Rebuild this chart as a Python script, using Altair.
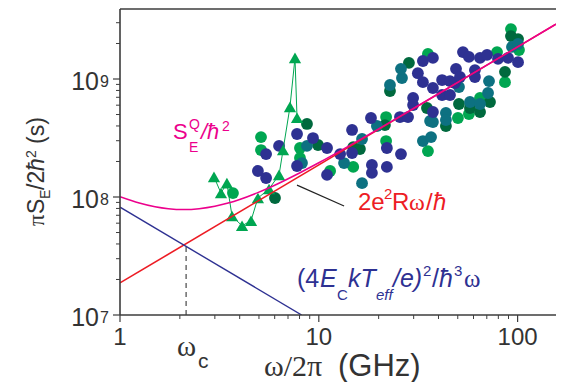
import altair as alt
import pandas as pd

# ---------------- data ----------------
green_f = [5.12, 5.12, 3.70, 8.04, 8.04, 14.9, 11.4, 21.8, 21.8, 35.4, 35.4, 50.1, 56.9, 64.7, 86.4, 92.6, 101.6, 78.8]
green_s = [3.22e8, 2.50e8, 1.08e8, 2.60e8, 2.14e8, 1.80e8, 1.66e8, 2.98e8, 4.76e8, 1.63e9, 2.45e8, 4.67e8, 5.05e8, 6.90e8, 9.4e8, 2.65e9, 1.76e9, 1.69e9]
dkgreen_f = [6.02, 8.72, 9.91, 14.9, 16.1, 21.5, 22.8, 28.4, 35.0, 43.6, 50.7, 57.6, 64.7, 72.6, 86.4, 92.6, 100.5]
dkgreen_s = [9.8e7, 4.16e8, 2.76e8, 2.65e8, 2.55e8, 4.07e8, 7.91e8, 1.37e9, 5.68e8, 4.0e8, 6.14e8, 5.68e8, 5.25e8, 6.38e8, 1.15e9, 2.31e9, 2.18e9]
teal_f = [8.72, 8.23, 16.5, 13.4, 16.5, 19.6, 22.8, 26.2, 25.9, 36.3, 33.4, 36.7, 43.6, 43.6, 37.5, 50.7, 57.6, 64.7, 71.0, 71.8, 93.7, 100.5]
teal_s = [2.71e8, 1.94e8, 3.10e8, 1.94e8, 1.31e8, 4.0e8, 8.9e8, 1.02e9, 1.22e9, 4.41e8, 2.98e8, 3.22e8, 5.15e8, 4.49e8, 4.32e8, 8.55e8, 6.38e8, 6.14e8, 7.61e8, 9.6e8, 1.87e9, 1.98e9]
navy_f = [5.43, 6.31, 4.94, 5.43, 7.77, 9.35, 7.77, 11.0, 12.8, 14.7, 14.7, 11.0, 18.5, 18.5, 22.0, 22.0, 25.9, 18.3,
          25.6, 28.1, 29.8, 29.8, 31.5, 33.4, 33.4, 37.5, 37.5, 37.5, 41.7, 45.7, 48.4, 41.7, 45.7, 49.0, 51.3, 53.1,
          56.9, 61.0, 61.0, 64.7, 70.2, 79.7, 89.5, 100.5]
navy_s = [2.31e8, 2.71e8, 1.66e8, 1.45e8, 3.42e8, 3.16e8, 1.83e8, 2.60e8, 2.31e8, 3.70e8, 2.36e8, 1.54e8, 1.87e8, 1.60e8,
          1.80e8, 2.60e8, 2.31e8, 4.67e8, 4.76e8, 4.76e8, 6.90e8, 6.02e8, 1.12e9, 9.4e8, 1.42e9, 1.51e9, 8.39e8, 5.25e8,
          9.8e8, 9.6e8, 9.25e8, 7.32e8, 7.32e8, 1.22e9, 1.04e9, 1.69e9, 1.54e9, 1.19e9, 1.04e9, 1.51e9, 1.60e9, 1.48e9,
          1.51e9, 1.39e9]

tri_f = [2.97, 3.22, 3.45, 3.66, 4.11, 4.56, 4.94, 5.62, 6.31, 6.61, 7.16, 7.59, 7.77]
tri_s = [1.48e8, 1.08e8, 1.31e8, 6.9e7, 5.7e7, 6.3e7, 9.8e7, 1.17e8, 1.54e8, 2.5e8, 5.8e8, 1.51e9, 4.7e8]

# theory curves
red_f = [1, 156]
red_s = [1.87e7, 2.92e9]
blue_f = [1, 8.2]
blue_s = [8.2e7, 1.0e7]
mag_f = [1, 1.25, 1.5, 1.75, 2.1, 2.5, 3, 3.5, 4, 5, 6, 8, 10, 15, 20, 50, 100, 156]
mag_s = [1.007e8, 8.9e7, 8.27e7, 7.96e7, 7.83e7, 7.96e7, 8.34e7, 8.89e7, 9.53e7, 1.1e8, 1.26e8, 1.6e8, 1.95e8,
         2.86e8, 3.78e8, 9.37e8, 1.87e9, 2.92e9]

omega_c = 2.15
omega_c_top = 3.95e7
pointer_f = [7.77, 13.4]
pointer_s = [1.26e8, 8.4e7]

x_major = [1, 10, 100]
x_major_labels = ["1", "10", "100"]
x_minor = [2, 3, 4, 5, 6, 7, 8, 9, 20, 30, 40, 50, 60, 70, 80, 90]
y_major = [1e7, 1e8, 1e9]
y_major_sup = ["7", "8", "9"]
y_minor = [2e7, 3e7, 4e7, 5e7, 6e7, 7e7, 8e7, 9e7, 2e8, 3e8, 4e8, 5e8, 6e8, 7e8, 8e8, 9e8, 2e9, 3e9]

# ---------------- styling ----------------
SANS = "Liberation Sans"
SERIF = "Liberation Serif"
GREEN = "#00a651"
DKGREEN = "#00693e"
TEAL = "#0d7181"
NAVY = "#2e3192"
RED = "#ed1c24"
MAGENTA = "#ec008c"
AX = "#3c3c3c"
TXT = "#333333"

W, H = 436, 306
X0, Y0 = 120, 9  # page position of plot origin

xscale = alt.Scale(type="log", domain=[1, 156], nice=False)
yscale = alt.Scale(type="log", domain=[1e7, 3.92e9], nice=False)


def X(f):
    return alt.X(f, type="quantitative", scale=xscale, axis=None)


def Y(f):
    return alt.Y(f, type="quantitative", scale=yscale, axis=None)


def T(s, px, py, size, color, font=SANS, style="normal", angle=0, align="left"):
    return alt.Chart(alt.Data(values=[{"a": 1}])).mark_text(
        text=s, font=font, fontSize=size, fontStyle=style, color=color,
        angle=angle, align=align, baseline="alphabetic"
    ).encode(x=alt.value(px - X0), y=alt.value(py - Y0))


def frame(x1, x2, y1, y2):
    return alt.Chart(alt.Data(values=[{"a": 1}])).mark_rule(color=AX, strokeWidth=1.6).encode(
        x=alt.value(x1), x2=alt.value(x2), y=alt.value(y1), y2=alt.value(y2))


groups = (["g"] * len(green_f) + ["d"] * len(dkgreen_f) + ["t"] * len(teal_f) + ["n"] * len(navy_f))
circ = pd.DataFrame({
    "f": green_f + dkgreen_f + teal_f + navy_f,
    "s": green_s + dkgreen_s + teal_s + navy_s,
    "grp": groups,
})
circles = alt.Chart(circ).mark_circle(size=140, opacity=1).encode(
    x=X("f"), y=Y("s"),
    color=alt.Color("grp:N", scale=alt.Scale(domain=["g", "d", "t", "n"],
                                             range=[GREEN, DKGREEN, TEAL, NAVY]), legend=None),
)

tri = pd.DataFrame({"f": tri_f, "s": tri_s})
tri_line = alt.Chart(tri).mark_line(color=GREEN, strokeWidth=1, clip=True).encode(x=X("f"), y=Y("s"))
tri_pts = alt.Chart(tri).mark_point(shape="triangle-up", size=150, filled=True, color=GREEN, opacity=1).encode(
    x=X("f"), y=Y("s"))

red = alt.Chart(pd.DataFrame({"f": red_f, "s": red_s})).mark_line(color=RED, strokeWidth=1.6, clip=True).encode(
    x=X("f"), y=Y("s"))
blue = alt.Chart(pd.DataFrame({"f": blue_f, "s": blue_s})).mark_line(color=NAVY, strokeWidth=1.4, clip=True).encode(
    x=X("f"), y=Y("s"))
mag = alt.Chart(pd.DataFrame({"f": mag_f, "s": mag_s})).mark_line(
    color=MAGENTA, strokeWidth=1.6, clip=True, interpolate="monotone").encode(x=X("f"), y=Y("s"))

dash = alt.Chart(pd.DataFrame({"f": [omega_c], "s0": [1e7], "s1": [omega_c_top]})).mark_rule(
    color="#222222", strokeWidth=1, strokeDash=[5, 4]).encode(x=X("f"), y=Y("s0"), y2="s1")

pointer = alt.Chart(pd.DataFrame({"f": pointer_f, "s": pointer_s})).mark_line(
    color="#222222", strokeWidth=1.2).encode(x=X("f"), y=Y("s"))

# ticks
ymaj = alt.Chart(pd.DataFrame({"v": y_major})).mark_rule(color=AX, strokeWidth=1.2).encode(
    y=Y("v"), x=alt.value(-7), x2=alt.value(0))
ymin = alt.Chart(pd.DataFrame({"v": y_minor})).mark_rule(color=AX, strokeWidth=1).encode(
    y=Y("v"), x=alt.value(-4), x2=alt.value(0))
xmaj = alt.Chart(pd.DataFrame({"v": x_major})).mark_rule(color=AX, strokeWidth=1.2).encode(
    x=X("v"), y=alt.value(H), y2=alt.value(H + 7))
xmin = alt.Chart(pd.DataFrame({"v": x_minor})).mark_rule(color=AX, strokeWidth=1).encode(
    x=X("v"), y=alt.value(H), y2=alt.value(H + 4))

# tick labels
ylab = alt.Chart(pd.DataFrame({"v": y_major, "sup": y_major_sup})).mark_text(
    text="10", font=SANS, fontSize=25, color=TXT, align="right", baseline="alphabetic", dy=11
).encode(y=Y("v"), x=alt.value(-21))
ysup = alt.Chart(pd.DataFrame({"v": y_major, "sup": y_major_sup})).mark_text(
    font=SANS, fontSize=16, color=TXT, align="left", baseline="alphabetic", dy=8
).encode(y=Y("v"), x=alt.value(-20), text="sup:N")
xlab = alt.Chart(pd.DataFrame({"v": x_major, "lab": x_major_labels})).mark_text(
    font=SANS, fontSize=24, color=TXT, align="center", baseline="alphabetic"
).encode(x=X("v"), y=alt.value(345 - Y0), text="lab:N")

texts = [
    # x title
    T("ω/2π", 264, 376, 30, TXT, font=SERIF),
    T("(GHz)", 338, 376, 31, TXT),
    # omega_c
    T("ω", 177, 356, 29, TXT, font=SERIF),
    T("c", 198, 368, 21, TXT),
    # y title (rotated)
    T("π", 44, 226, 23, TXT, font=SERIF, angle=270),
    T("S", 44, 214, 23, TXT, angle=270),
    T("E", 50, 199, 14, TXT, angle=270),
    T("/2", 44, 190, 23, TXT, angle=270),
    T("ħ", 44, 171, 23, TXT, style="italic", angle=270),
    T("2", 36, 158, 14, TXT, angle=270),
    T("(s)", 44, 144, 23, TXT, angle=270),
    # magenta label
    T("S", 173, 139, 22, MAGENTA),
    T("Q", 189, 129, 14, MAGENTA),
    T("E", 189, 152, 14, MAGENTA),
    T("/", 201, 139, 22, MAGENTA, style="italic"),
    T("ħ", 207, 139, 22, MAGENTA, style="italic"),
    T("2", 222, 131, 14, MAGENTA),
    # red label
    T("2e", 358, 210, 24, RED),
    T("2", 384, 199, 15, RED),
    T("R", 392, 210, 24, RED),
    T("ω", 409, 210, 24, RED, font=SERIF),
    T("/", 426, 210, 24, RED),
    T("ħ", 433, 210, 24, RED, style="italic"),
    # navy label
    T("(4", 297, 287, 25, NAVY),
    T("E", 320, 287, 25, NAVY, style="italic"),
    T("C", 337, 300, 15, NAVY),
    T("kT", 348, 287, 25, NAVY, style="italic"),
    T("eff", 376, 300, 15, NAVY, style="italic"),
    T("/e)", 393, 287, 25, NAVY, style="italic"),
    T("2", 423, 276, 15, NAVY),
    T("/", 432, 287, 25, NAVY),
    T("ħ", 439, 287, 25, NAVY, style="italic"),
    T("3", 454, 276, 15, NAVY),
    T("ω", 464, 287, 25, NAVY, font=SERIF),
]

# plot frame: left, bottom and top (no right edge visible in the reference)
frames = [frame(0, 0, 0, H), frame(0, W, H, H), frame(0, W, 0, 0)]

chart = alt.layer(
    circles, tri_line, tri_pts, red, mag, blue, dash, pointer,
    ymaj, ymin, xmaj, xmin, *frames, ylab, ysup, xlab, *texts
).properties(
    width=W, height=H,
    autosize=alt.AutoSizeParams(type="none"),
    padding={"left": 112, "top": 1, "right": 0, "bottom": 67},
    background="white",
).configure_view(strokeWidth=0)

chart.save("out.html", embed_options={"renderer": "svg", "actions": False})
